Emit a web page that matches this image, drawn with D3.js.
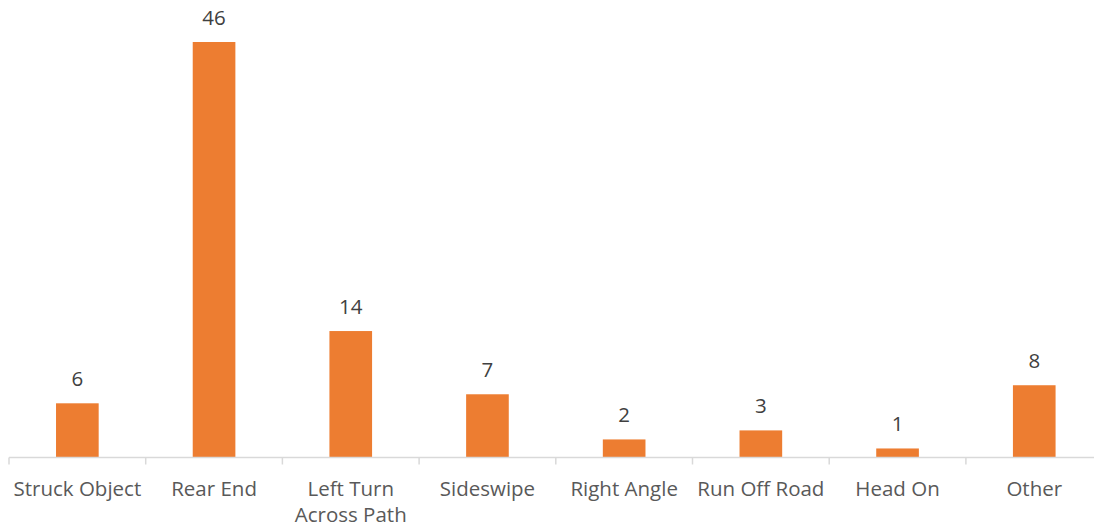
<!DOCTYPE html>
<html>
<head>
<meta charset="utf-8">
<script src="https://cdn.jsdelivr.net/npm/d3@7"></script>
<style>
  html, body { margin: 0; padding: 0; background: #fff; }
  svg { display: block; }
  text { font-family: "Open Sans", "Noto Sans", sans-serif; }
</style>
</head>
<body>
<svg id="chart" width="1094" height="531"></svg>
<script>
// Crash types and counts
const categories = ["Struck Object", "Rear End", "Left Turn Across Path", "Sideswipe", "Right Angle", "Run Off Road", "Head On", "Other"];
const categoryLines = [["Struck Object"], ["Rear End"], ["Left Turn", "Across Path"], ["Sideswipe"], ["Right Angle"], ["Run Off Road"], ["Head On"], ["Other"]];
const counts = [6, 46, 14, 7, 2, 3, 1, 8];

const svg = d3.select("#chart");
const plotLeft = 9, plotRight = 1102.6, baseline = 457.5, plotTop = 42;

const x = d3.scaleBand()
  .domain(categories)
  .range([plotLeft, plotRight])
  .paddingInner(0.688)
  .paddingOuter(0.344);

const y = d3.scaleLinear()
  .domain([0, 46])
  .range([baseline, plotTop]);

// bars
svg.append("g").selectAll("rect")
  .data(counts)
  .join("rect")
  .attr("x", (d, i) => x(categories[i]))
  .attr("y", d => y(d))
  .attr("width", x.bandwidth())
  .attr("height", d => baseline - y(d))
  .attr("fill", "#ED7D31");

// value labels
svg.append("g").selectAll("text")
  .data(counts)
  .join("text")
  .attr("x", (d, i) => x(categories[i]) + x.bandwidth() / 2)
  .attr("y", d => y(d) - 17)
  .attr("text-anchor", "middle")
  .attr("font-size", 20.5)
  .attr("fill", "#404040")
  .text(d => d);

// category axis
const step = (plotRight - plotLeft) / categories.length;
const axis = svg.append("g");
axis.append("line")
  .attr("x1", plotLeft).attr("x2", plotRight)
  .attr("y1", baseline).attr("y2", baseline)
  .attr("stroke", "#D9D9D9").attr("stroke-width", 1.5);
axis.selectAll("line.tick")
  .data(d3.range(categories.length + 1))
  .join("line")
  .attr("class", "tick")
  .attr("x1", i => plotLeft + i * step).attr("x2", i => plotLeft + i * step)
  .attr("y1", baseline).attr("y2", baseline + 7)
  .attr("stroke", "#D9D9D9").attr("stroke-width", 1.5);

const labels = axis.selectAll("text.cat")
  .data(categoryLines)
  .join("text")
  .attr("class", "cat")
  .attr("text-anchor", "middle")
  .attr("font-size", 20.5)
  .attr("fill", "#595959")
  .attr("transform", (d, i) => `translate(${x(categories[i]) + x.bandwidth() / 2},496)`);
labels.selectAll("tspan")
  .data(d => d)
  .join("tspan")
  .attr("x", 0)
  .attr("y", (d, j) => j * 26)
  .text(d => d);
</script>
</body>
</html>
